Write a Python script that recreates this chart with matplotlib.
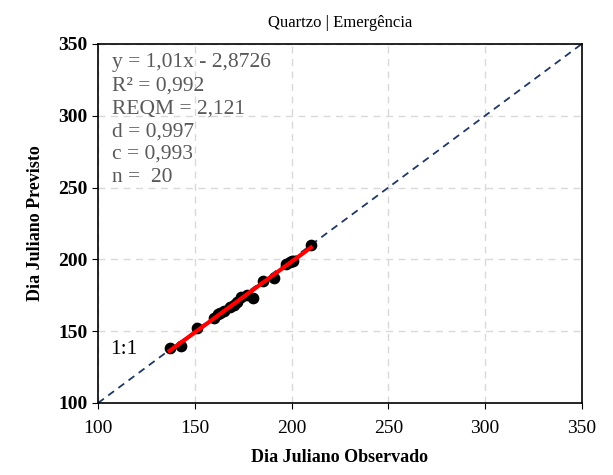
import numpy as np
import matplotlib.pyplot as plt

plt.rcParams['font.family'] = ['Liberation Serif', 'DejaVu Serif']

# observed vs predicted julian day
observado = [137, 143, 151, 160, 162, 163, 165, 168, 170, 172,
             174, 177, 180, 185, 191, 197, 199, 200, 201, 210]
previsto = [138, 140, 152, 159, 162, 163, 164, 167, 168, 170,
            174, 175, 173, 185, 187, 197, 198, 199, 199, 210]
stats = ['y = 1,01x - 2,8726', 'R² = 0,992', 'REQM = 2,121',
         'd = 0,997', 'c = 0,993', 'n =  20']
ticks = [100, 150, 200, 250, 300, 350]

fig = plt.figure(figsize=(6.13, 4.75), dpi=100)
ax = fig.add_axes([0.16, 0.1516, 0.789, 0.7558])

ax.plot([100, 350], [100, 350], color='#1f3864', linestyle=(0, (4, 3)), linewidth=1.3, zorder=2)
ax.scatter(observado, previsto, s=55, color='black', zorder=3)

coef = np.polyfit(observado, previsto, 1)
xs = np.array([min(observado), max(observado)])
ax.plot(xs, np.polyval(coef, xs), color='red', linewidth=3, zorder=4)

ax.set_xlim(100, 350)
ax.set_ylim(100, 350)
ax.set_xticks(ticks)
ax.set_yticks(ticks)
ax.grid(True, color='#d9d9d9', linestyle=(0, (5, 4)), linewidth=1)
ax.set_axisbelow(True)
for s in ax.spines.values():
    s.set_color('black')
    s.set_linewidth(1.2)
ax.tick_params(direction='out', length=4, labelsize=14, colors='black')
ax.tick_params(axis='x', pad=8)
for lab in ax.get_yticklabels():
    lab.set_fontweight('bold')

ax.set_xlabel('Dia Juliano Observado', fontsize=13, fontweight='bold', labelpad=9)
ax.set_ylabel('Dia Juliano Previsto', fontsize=13, fontweight='bold', labelpad=10)
ax.set_title('Quartzo | Emergência', fontsize=12, pad=12)

ax.text(107, 343.5, '\n'.join(stats), fontsize=15.5, color='#595959',
        va='top', ha='left', linespacing=1.28)
ax.text(106.5, 137, '1:1', fontsize=15.5, color='black', va='center', ha='left')

fig.savefig('out.png', dpi=100)
